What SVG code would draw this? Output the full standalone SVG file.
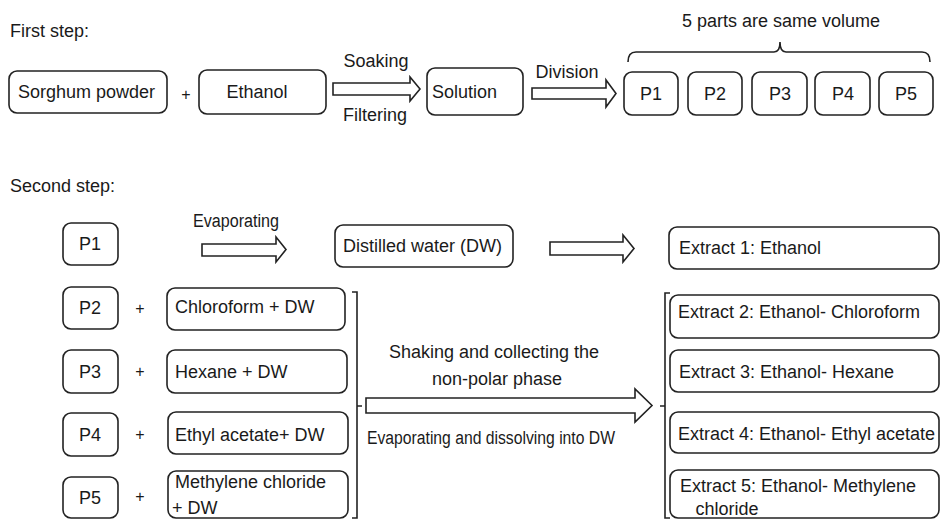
<svg xmlns="http://www.w3.org/2000/svg" width="941" height="520" viewBox="0 0 941 520">
<style>
  text { font-family: "Liberation Sans", Arial, sans-serif; font-size: 18px; fill: #1a1a1a; }
  .box { fill: #fff; stroke: #222; stroke-width: 1.6; }
  .arr { fill: #fff; stroke: #222; stroke-width: 1.6; stroke-linejoin: miter; }
  .br { fill: none; stroke: #222; stroke-width: 1.6; }
  .plus { font-size: 16px; }
  .c { text-anchor: middle; }
</style>
<rect width="941" height="520" fill="#fff"/>

<text x="10" y="37">First step:</text>
<text x="10" y="192">Second step:</text>

<!-- First step nodes -->
<g id="sorghum"><rect class="box" x="9" y="71" width="158" height="42" rx="8"/><text x="18" y="98">Sorghum powder</text></g>
<text class="plus c" x="186" y="100">+</text>
<g id="ethanol"><rect class="box" x="199" y="70" width="127" height="44" rx="8"/><text class="c" x="257" y="98">Ethanol</text></g>
<g id="solution"><rect class="box" x="427" y="68" width="96" height="47" rx="8"/><text x="432" y="98">Solution</text></g>
<g id="p1a"><rect class="box" x="624" y="72" width="54" height="43" rx="8"/><text class="c" x="651" y="100">P1</text></g>
<g id="p2a"><rect class="box" x="688" y="72" width="54" height="43" rx="8"/><text class="c" x="715" y="100">P2</text></g>
<g id="p3a"><rect class="box" x="752" y="72" width="55" height="43" rx="8"/><text class="c" x="780" y="100">P3</text></g>
<g id="p4a"><rect class="box" x="815" y="72" width="55" height="43" rx="8"/><text class="c" x="843" y="100">P4</text></g>
<g id="p5a"><rect class="box" x="879" y="72" width="54" height="43" rx="8"/><text class="c" x="906" y="100">P5</text></g>
<text class="c" x="781" y="27">5 parts are same volume</text>

<!-- Second step nodes -->
<g id="p1b"><rect class="box" x="63" y="223" width="55" height="42" rx="8"/><text class="c" x="90" y="250">P1</text></g>
<g id="dw"><rect class="box" x="335" y="225" width="178" height="42" rx="8"/><text x="343" y="252">Distilled water (DW)</text></g>
<g id="ext1"><rect class="box" x="669" y="227" width="270" height="42" rx="8"/><text x="679" y="254">Extract 1: Ethanol</text></g>

<g id="p2b"><rect class="box" x="63" y="287" width="55" height="42" rx="8"/><text class="c" x="90" y="314">P2</text></g>
<g id="p3b"><rect class="box" x="63" y="350" width="55" height="43" rx="8"/><text class="c" x="90" y="378">P3</text></g>
<g id="p4b"><rect class="box" x="63" y="413" width="55" height="43" rx="8"/><text class="c" x="90" y="441">P4</text></g>
<g id="p5b"><rect class="box" x="63" y="477" width="55" height="41" rx="8"/><text class="c" x="90" y="504">P5</text></g>

<text class="plus c" x="140" y="314">+</text>
<text class="plus c" x="140" y="377">+</text>
<text class="plus c" x="140" y="440">+</text>
<text class="plus c" x="140" y="502">+</text>

<g id="chloro"><rect class="box" x="167" y="288" width="178" height="42" rx="8"/><text x="175" y="313">Chloroform + DW</text></g>
<g id="hexane"><rect class="box" x="167" y="350" width="180" height="43" rx="8"/><text x="175" y="378">Hexane + DW</text></g>
<g id="ethyl"><rect class="box" x="168" y="412" width="180" height="42" rx="8"/><text x="175" y="441">Ethyl acetate+ DW</text></g>
<g id="methylene"><rect class="box" x="168" y="471" width="180" height="47" rx="8"/><text x="175" y="488">Methylene chloride</text><text x="172" y="514">+ DW</text></g>

<g id="ext2"><rect class="box" x="670" y="295" width="269" height="43" rx="8"/><text x="678" y="318">Extract 2: Ethanol- Chloroform</text></g>
<g id="ext3"><rect class="box" x="670" y="350" width="269" height="42" rx="8"/><text x="679" y="378">Extract 3: Ethanol- Hexane</text></g>
<g id="ext4"><rect class="box" x="670" y="412" width="269" height="41" rx="8"/><text x="678" y="440">Extract 4: Ethanol- Ethyl acetate</text></g>
<g id="ext5"><rect class="box" x="670" y="470" width="269" height="48" rx="8"/><text x="680" y="492">Extract 5: Ethanol- Methylene</text><text class="c" x="727" y="515">chloride</text></g>

<!-- Connectors -->
<g id="connectors">
  <path class="arr" d="M333,83 H410 V77 L420,89 L410,101 V95 H333 Z"/>
  <text class="c" x="376" y="67">Soaking</text>
  <text class="c" x="375" y="121">Filtering</text>

  <path class="arr" d="M532,88 H606 V80 L616,93.5 L606,107 V99 H532 Z"/>
  <text class="c" x="567" y="78">Division</text>

  <path class="br" d="M628,62 Q628,52 636,52 H774 Q780,52 780,42 Q780,52 786,52 H922 Q930,52 930,62"/>

  <path class="arr" d="M202,244 H276 V237 L286,249.5 L276,262 V256 H202 Z"/>
  <text class="c" x="236" y="227" textLength="86" lengthAdjust="spacingAndGlyphs">Evaporating</text>

  <path class="arr" d="M550,242 H623 V235 L634,248.5 L623,262 V255 H550 Z"/>

  <path class="br" d="M352,292 H357 V518 H352 M357,406 H362"/>
  <path class="br" d="M670,293 H665 V518 H670 M665,406 H660"/>

  <path class="arr" d="M366,398 H635 V389 L652,405.5 L635,422 V413 H366 Z"/>
  <text class="c" x="494" y="358">Shaking and collecting the</text>
  <text class="c" x="497" y="385">non-polar phase</text>
  <text class="c" x="491" y="444" textLength="248" lengthAdjust="spacingAndGlyphs">Evaporating and dissolving into DW</text>
</g>
</svg>
